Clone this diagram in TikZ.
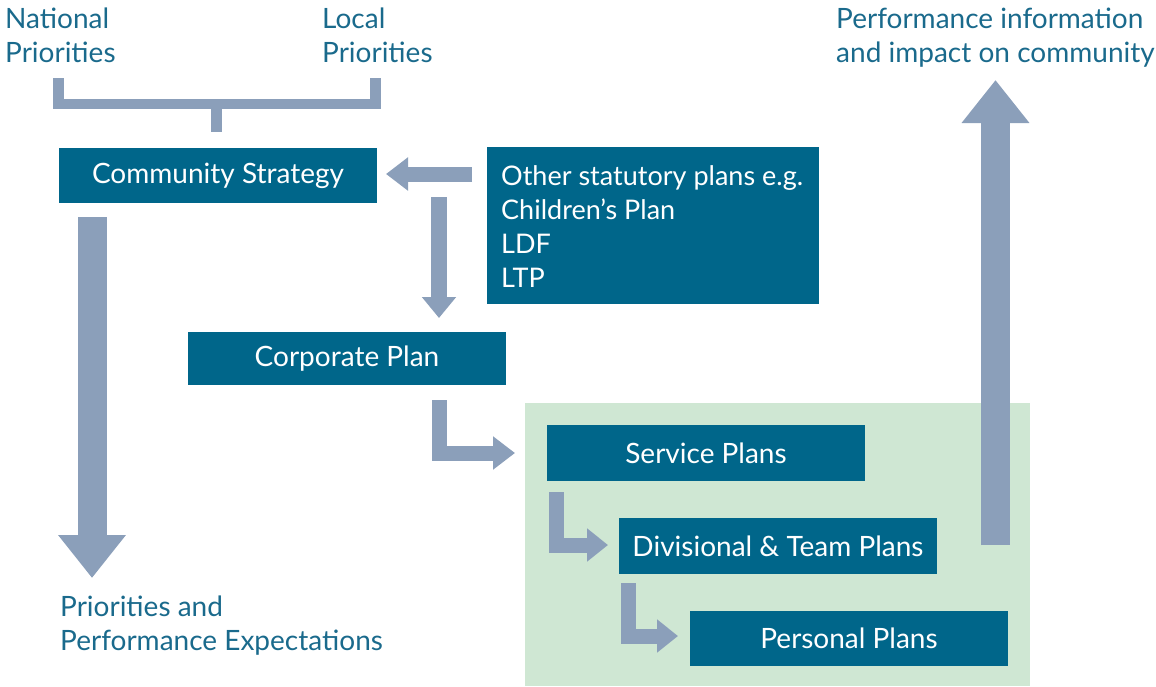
\documentclass[tikz,border=0pt]{standalone}
\usepackage{fontspec}
\setmainfont{Lato}
\usetikzlibrary{arrows.meta}
\definecolor{boxblue}{RGB}{0,102,138}
\definecolor{textblue}{RGB}{26,106,140}
\definecolor{arrowgrey}{RGB}{139,159,186}
\definecolor{palegreen}{RGB}{207,231,211}
\begin{document}
\begin{tikzpicture}[x=1pt,y=-1pt,
  box/.style={fill=boxblue,text=white,inner sep=0pt,font=\fontsize{28}{34}\selectfont},
  label/.style={text=textblue,anchor=base west,align=left,inner sep=0pt,font=\fontsize{28}{34}\selectfont},
  thinarrow/.style={draw=arrowgrey,line width=15pt,line join=miter,-{Triangle[width=32pt,length=22pt]}},
  fatarrow/.style={draw=arrowgrey,line width=29pt,-{Triangle[width=65pt,length=43pt]}},
  bracket/.style={draw=arrowgrey,line width=10.5pt,line join=miter}]
\useasboundingbox (0,0) rectangle (1156,686);
% green region
\fill[palegreen] (525,403) rectangle (1030,686);
% boxes
\node[box,minimum width=318pt,minimum height=55pt] (cs) at (218,175.5) {Community Strategy};
\node[box,minimum width=332pt,minimum height=157pt] (osp) at (653,225.5) {};
\node[text=white,anchor=base west,align=left,inner sep=0pt,font=\fontsize{27}{34}\selectfont] (ospt) at (501,287) {Other statutory plans e.g.\\Children’s Plan\\LDF\\LTP};
\node[box,minimum width=318pt,minimum height=53pt] (cp) at (347,358.5) {Corporate Plan};
\node[box,minimum width=318pt,minimum height=56pt] (sp) at (706,453) {Service Plans};
\node[box,minimum width=318pt,minimum height=56pt] (dtp) at (778,546) {Divisional \& Team Plans};
\node[box,minimum width=318pt,minimum height=55pt] (pp) at (849,638.5) {Personal Plans};
% labels
\node[label] (np) at (5,62) {National\\Priorities};
\node[label] (lp) at (322,62) {Local\\Priorities};
\node[label] (pi) at (836,62) {Performance information\\and impact on community};
\node[label] (ppe) at (60,650) {Priorities and\\Performance Expectations};
% bracket
\coordinate (bl) at (58.5,78);
\coordinate (br) at (375.5,78);
\coordinate (bm) at (216.5,100);
\coordinate (bs) at (216.5,132);
\draw[bracket] (bl) |- (br |- 0,104) -- (br);
\draw[bracket] (bm) -- (bs);
% arrows
\coordinate (a1s) at (472,174);
\coordinate (a1e) at (386,174);
\draw[thinarrow] (a1s) -- (a1e);
\coordinate (a2s) at (439,197);
\coordinate (a2e) at (439,318);
\draw[thinarrow,line width=16pt,-{Triangle[width=33pt,length=21pt]}] (a2s) -- (a2e);
\coordinate (a3s) at (439.5,400);
\coordinate (a3e) at (515,453);
\draw[thinarrow] (a3s) |- (a3e);
\coordinate (a4s) at (556.5,492);
\coordinate (a4e) at (608,545);
\draw[thinarrow,-{Triangle[width=32pt,length=21pt]}] (a4s) |- (a4e);
\coordinate (a5s) at (628.5,583);
\coordinate (a5e) at (678,636);
\draw[thinarrow,-{Triangle[width=32pt,length=21pt]}] (a5s) |- (a5e);
\coordinate (a6s) at (995.5,545);
\coordinate (a6e) at (995.5,80);
\draw[fatarrow] (a6s) -- (a6e);
\coordinate (a7s) at (92,217);
\coordinate (a7e) at (92,578);
\draw[fatarrow] (a7s) -- (a7e);
\end{tikzpicture}
\end{document}
